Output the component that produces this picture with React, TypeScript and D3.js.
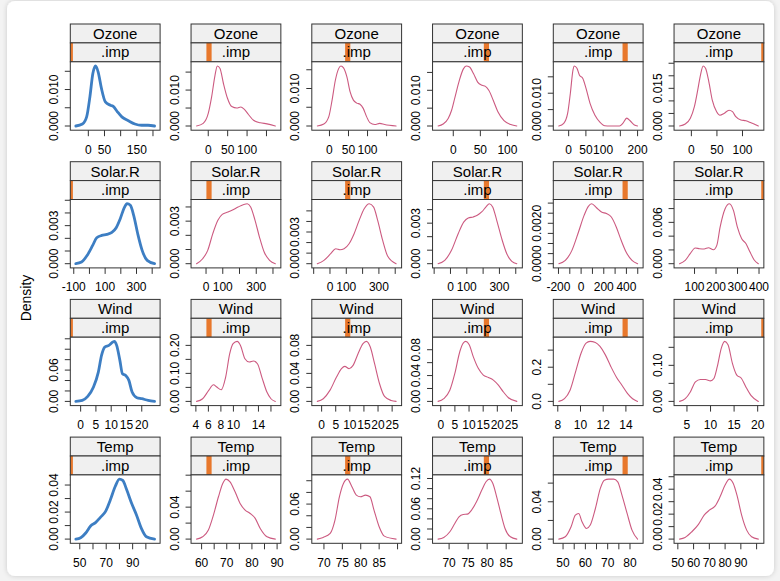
import React from "react";
import * as d3 from "d3";

// ---------- data: variables & imputation levels ----------
const variables = ["Ozone", "Solar.R", "Wind", "Temp"];
const impLevels = [0, 1, 2, 3, 4, 5];

// ---------- density curves [x, density] ----------
const ozone0 = [[-38.7,0],[-18.3,0.00055],[-5.2,0.0025],[4.9,0.008],[14,0.0144],[22.3,0.01645],[30.5,0.0148],[40.6,0.0103],[52.7,0.0066],[68,0.0057],[78,0.0053],[90,0.0039],[103.7,0.0025],[123.8,0.00145],[144,0.00055],[164.6,0.0002],[184.8,0.0002],[205,0]];
const ozone1 = [[-30.1,0],[-13,0.00074],[0,0.0035],[8.7,0.0081],[17.4,0.0141],[23.3,0.0167],[30.3,0.016],[39,0.0119],[49.3,0.0078],[60.6,0.0054],[73.6,0.005],[83.9,0.0053],[92.5,0.0047],[103.6,0.0032],[116.6,0.0016],[134,0.0009],[151.3,0.0006],[172.8,0]];
const ozone2 = [[-31.9,0],[-14.7,0.00053],[-1.7,0.0025],[6.9,0.0069],[15.5,0.0122],[24.1,0.0153],[30.2,0.016],[37,0.0155],[45.8,0.0131],[54.3,0.0091],[62.9,0.0069],[71.7,0.0061],[80.2,0.0058],[88.7,0.0047],[97.5,0.0025],[106,0.0009],[119,0.0004],[132,0.0007],[144.9,0.0004],[175,0]];
const ozone3 = [[-28.1,0],[-18.7,0.00056],[-9.4,0.0021],[-3.1,0.0044],[3.2,0.0081],[11.2,0.0128],[18.7,0.016],[23.8,0.0168],[30,0.0165],[37.5,0.0146],[45,0.0123],[53.2,0.0114],[59.4,0.0111],[65.6,0.01],[73.8,0.0072],[82.4,0.004],[93.7,0.0015],[106.2,0.0004],[117.4,0]];
const ozone4 = [[-28.6,0],[-14.3,0.0008],[-2.9,0.0039],[4.9,0.01],[12.6,0.0171],[16.3,0.0183],[24,0.0176],[31.4,0.0155],[41.1,0.0145],[50.6,0.0114],[62,0.0069],[76.3,0.0033],[90.6,0.0012],[104.9,0.0001],[119,0],[147.7,0],[157.1,0.0008],[168.6,0.0024],[178.3,0.0016],[190.6,0.0003],[200,0]];
const ozone5 = [[-23.1,0],[-11.9,0.0008],[-2,0.0031],[5.9,0.0077],[12.5,0.0144],[17.8,0.0203],[23.1,0.0239],[27.7,0.023],[34.2,0.0176],[40.9,0.0103],[49.4,0.0057],[55.9,0.0043],[63.8,0.005],[73.7,0.0063],[80.4,0.0057],[86.9,0.0037],[96.8,0.0024],[106.7,0.0021],[116.6,0.0013],[131,0]];

const solar0 = [[-86.9,0],[-50.4,0.00013],[-14.2,0.00066],[20.6,0.00144],[46.4,0.00205],[78.6,0.00223],[110.8,0.00231],[143,0.00247],[170.6,0.00284],[196.4,0.00355],[222.2,0.00442],[239.5,0.00473],[260.8,0.0046],[282,0.00381],[307.8,0.00236],[336,0.00105],[368.3,0.00026],[415.3,0]];
const solar1 = [[-56.6,0],[-20.2,0.00035],[10.1,0.00094],[40.4,0.00212],[70.7,0.00306],[97,0.00348],[131.3,0.00364],[161.6,0.00381],[191.9,0.004],[222.2,0.00416],[246.4,0.00423],[266.6,0.004],[292.9,0.00306],[319.2,0.00188],[347.4,0.00082],[379.8,0.00024],[414.1,0]];
const solar2 = [[-77.7,0],[-37,0.00032],[4.3,0.00095],[35.2,0.00142],[61.7,0.00132],[86.4,0.00142],[117.2,0.00189],[148,0.00284],[178.9,0.0041],[209.8,0.0052],[240.6,0.00568],[267.8,0.00536],[292.5,0.0041],[323.3,0.0022],[354.2,0.0007],[405.4,0]];
const solar3 = [[-76,0],[-34.9,0.00025],[6.2,0.00099],[47.2,0.00222],[82.1,0.00309],[108.8,0.00338],[139.6,0.00346],[164.3,0.00358],[191,0.00383],[217.7,0.0042],[238.2,0.00444],[258.7,0.0042],[283.4,0.00321],[314.2,0.00185],[345,0.00074],[375.8,0.00017],[406.6,0]];
const solar4 = [[-197,0],[-139,0.000165],[-81.2,0.00066],[-23.2,0.00157],[26.1,0.00239],[63.8,0.00284],[92.8,0.00297],[136.2,0.00277],[179.7,0.00256],[223.2,0.00248],[266.7,0.00231],[310.1,0.00182],[353.6,0.00116],[397.1,0.00058],[449.3,0.000165],[498.6,0]];
const solar5 = [[30.4,0],[56.7,0.00048],[79.9,0.00145],[103.1,0.00228],[123.2,0.00218],[144.8,0.00213],[164.9,0.00232],[188.1,0.00203],[203.6,0.00266],[219,0.00532],[242.2,0.00799],[262.3,0.00871],[280.9,0.00774],[299.4,0.00532],[319.5,0.00363],[339.6,0.0029],[358.1,0.00169],[376.7,0.00058],[396.8,0]];

const wind0 = [[-1.58,0],[0.53,0.0019],[2.32,0.0096],[4.21,0.0275],[5.79,0.0562],[6.84,0.0882],[7.89,0.1042],[9.26,0.1073],[10.53,0.1137],[11.05,0.115],[11.79,0.1073],[12.84,0.0786],[13.68,0.053],[14.74,0.0498],[15.79,0.0403],[16.84,0.0179],[18.42,0.007],[20,0.0051],[22.1,0.0019],[24.2,0]];
const wind1 = [[4.11,0],[5.08,0.0095],[6.05,0.0393],[6.81,0.0595],[7.35,0.0512],[8.05,0.0417],[8.76,0.0869],[9.41,0.1702],[9.95,0.2059],[10.59,0.2142],[11.13,0.1999],[11.84,0.1523],[12.54,0.1404],[13.19,0.144],[13.84,0.1345],[14.54,0.0869],[15.35,0.0333],[16,0.0095],[16.7,0]];
const wind2 = [[-1.53,0],[0.59,0.0038],[2.93,0.0157],[5.28,0.0348],[7.04,0.0467],[8.22,0.05],[9.74,0.0467],[11.15,0.0514],[12.91,0.0681],[14.67,0.0824],[15.85,0.0857],[17.26,0.0776],[18.78,0.0538],[20.54,0.0252],[22.3,0.0071],[24.65,0.0014],[26.4,0]];
const wind3 = [[-0.95,0],[1.07,0.0042],[3.2,0.0172],[4.98,0.0433],[6.75,0.0773],[7.94,0.0903],[8.89,0.0929],[10.07,0.0877],[11.49,0.0694],[13.27,0.0512],[15.05,0.0407],[16.83,0.0371],[18.6,0.0329],[20.38,0.0251],[22.16,0.0146],[23.94,0.0057],[26.9,0]];
const wind4 = [[8.09,0],[8.59,0.0158],[9.08,0.065],[9.61,0.1834],[10.05,0.282],[10.49,0.3412],[10.84,0.351],[11.31,0.3451],[11.72,0.3214],[12.19,0.2722],[12.68,0.2031],[13.18,0.14],[13.65,0.0947],[14.15,0.0454],[14.59,0.0158],[15.03,0]];
const wind5 = [[3.43,0],[4.64,0.0075],[5.71,0.0262],[6.79,0.0542],[7.86,0.0608],[8.93,0.0608],[10,0.057],[10.71,0.0636],[11.43,0.0963],[12.29,0.1477],[13,0.1664],[13.71,0.1571],[14.64,0.1057],[15.57,0.0729],[16.57,0.0636],[17.5,0.0402],[18.57,0.0168],[20.14,0]];

const temp0 = [[47,0],[50.7,0.001],[54.5,0.0045],[58.2,0.0097],[61.9,0.0122],[65.6,0.0161],[69.4,0.0203],[73.1,0.029],[76.8,0.0389],[80,0.0444],[82.5,0.0434],[85.5,0.0365],[89.2,0.0265],[92.9,0.0179],[96.6,0.0079],[100.4,0.0017],[106.6,0]];
const temp1 = [[58,0],[60.4,0.0029],[62.7,0.0113],[64.7,0.03],[66.7,0.053],[68.4,0.0696],[69.7,0.0751],[71.3,0.0717],[73.3,0.0592],[75.3,0.0446],[77.3,0.0363],[79.3,0.0321],[81.3,0.0259],[83.3,0.0133],[86,0.0029],[89.3,0]];
const temp2 = [[68.2,0],[69.8,0.0029],[71.7,0.0097],[73,0.0325],[74.2,0.0725],[75.3,0.0954],[76.4,0.1028],[77.6,0.0897],[78.8,0.0754],[79.9,0.0725],[81.3,0.0754],[82.5,0.0725],[83.6,0.0497],[85,0.0211],[86.4,0.0051],[89.6,0]];
const temp3 = [[67.1,0],[68.6,0.0033],[70.2,0.0145],[71.5,0.031],[72.6,0.0442],[73.7,0.0488],[74.8,0.0495],[75.9,0.0574],[77.2,0.0739],[78.6,0.097],[79.7,0.1135],[80.6,0.1188],[81.5,0.1102],[82.5,0.0838],[83.6,0.0508],[84.7,0.0211],[86.1,0.0046],[87.8,0]];
const temp4 = [[48.1,0],[51,0.0025],[53.6,0.0132],[55.5,0.0257],[57,0.0275],[58.5,0.0186],[60.5,0.0114],[62.2,0.015],[64.5,0.0328],[66.7,0.0543],[68.5,0.0632],[70.5,0.0643],[72.7,0.0643],[74.5,0.0614],[76.4,0.0471],[78.7,0.0275],[80.9,0.0096],[83.4,0]];
const temp5 = [[51.1,0],[54.6,0.0013],[58.9,0.0059],[63.1,0.0118],[66.7,0.0192],[70,0.0232],[73.6,0.0264],[76.8,0.0339],[80,0.0433],[82.7,0.0481],[85.2,0.0446],[87.8,0.0339],[90.5,0.0192],[93.7,0.0072],[96.8,0.0019],[101.1,0]];

// ---------- ticks and (non-overlapping) tick labels ----------
const ozoneXTicks = [[0,50,100,150,200],[0,50,100,150],[0,50,100,150],[0,50,100],[0,50,100,150,200],[0,50,100]];
const ozoneXLabels = [["0","50","150"],["0","50","100"],["0","50","100"],["0","50","100"],["0","50","100","200"],["0","50","100"]];
const ozoneYTicks = [[0,0.005,0.01,0.015],[0,0.005,0.01,0.015],[0,0.005,0.01,0.015],[0,0.005,0.01,0.015],[0,0.005,0.01,0.015],[0,0.005,0.01,0.015,0.02,0.025]];
const ozoneYLabels = [["0.000","0.010"],["0.000","0.010"],["0.000","0.010"],["0.000","0.010"],["0.000","0.010"],["0.000","0.015"]];

const solarXTicks = [[-100,0,100,200,300,400],[-100,0,100,200,300,400],[-100,0,100,200,300,400],[-100,0,100,200,300,400],[-200,-100,0,100,200,300,400,500],[100,200,300,400]];
const solarXLabels = [["-100","100","300"],["0","100","300"],["0","100","300"],["0","100","300"],["-200","0","200","400"],["100","200","300","400"]];
const solarYTicks = [[0,0.001,0.002,0.003,0.004,0.005],[0,0.001,0.002,0.003,0.004],[0,0.001,0.002,0.003,0.004,0.005],[0,0.001,0.002,0.003,0.004],[0,0.0005,0.001,0.0015,0.002,0.0025,0.003],[0,0.002,0.004,0.006,0.008]];
const solarYLabels = [["0.000","0.003"],["0.000","0.003"],["0.000","0.003"],["0.000","0.003"],["0.0000","0.0020"],["0.000","0.006"]];

const windXTicks = [[0,5,10,15,20],[4,6,8,10,12,14,16],[0,5,10,15,20,25],[0,5,10,15,20,25],[8,10,12,14],[5,10,15,20]];
const windXLabels = [["0","5","10","15","20"],["4","6","8","10","14"],["0","5","10","15","20","25"],["0","5","10","15","20","25"],["8","10","12","14"],["5","10","15","20"]];
const windYTicks = [[0,0.02,0.04,0.06,0.08,0.1,0.12],[0,0.05,0.1,0.15,0.2],[0,0.02,0.04,0.06,0.08],[0,0.02,0.04,0.06,0.08],[0,0.1,0.2,0.3],[0,0.05,0.1,0.15]];
const windYLabels = [["0.00","0.06"],["0.00","0.10","0.20"],["0.00","0.04","0.08"],["0.00","0.04","0.08"],["0.0","0.2"],["0.00","0.10"]];

const tempXTicks = [[50,60,70,80,90,100],[60,65,70,75,80,85,90],[70,75,80,85,90],[70,75,80,85],[50,55,60,65,70,75,80],[50,60,70,80,90,100]];
const tempXLabels = [["50","70","90"],["60","70","80","90"],["70","75","80","85"],["70","75","80","85"],["50","60","70","80"],["50","60","70","80","90"]];
const tempYTicks = [[0,0.01,0.02,0.03,0.04],[0,0.02,0.04,0.06,0.08],[0,0.02,0.04,0.06,0.08,0.1],[0,0.02,0.04,0.06,0.08,0.1,0.12],[0,0.02,0.04,0.06],[0,0.01,0.02,0.03,0.04,0.05]];
const tempYLabels = [["0.00","0.02","0.04"],["0.00","0.04"],["0.00","0.06"],["0.00","0.06","0.12"],["0.00","0.04"],["0.00","0.02","0.04"]];

const curves = [
  [ozone0, ozone1, ozone2, ozone3, ozone4, ozone5],
  [solar0, solar1, solar2, solar3, solar4, solar5],
  [wind0, wind1, wind2, wind3, wind4, wind5],
  [temp0, temp1, temp2, temp3, temp4, temp5],
];
const xTicksAll = [ozoneXTicks, solarXTicks, windXTicks, tempXTicks];
const xLabelsAll = [ozoneXLabels, solarXLabels, windXLabels, tempXLabels];
const yTicksAll = [ozoneYTicks, solarYTicks, windYTicks, tempYTicks];
const yLabelsAll = [ozoneYLabels, solarYLabels, windYLabels, tempYLabels];

// ---------- layout / style ----------
const W = 780, H = 581;
const COL_X0 = 70.3, COL_STEP = 120.75, PW = 89.8;
const ROW_Y0 = 24, ROW_STEP = 137.7, STRIP_H = 18.9, PLOT_H = 68.4;
const FONT = "'Liberation Sans', Arial, Helvetica, sans-serif";
const AXIS_COL = "#333333";
const STRIP_BG = "#F0F0F0";
const MARK_COL = "#E8782C";
const OBS_COL = "#3D7EC3";
const IMP_COL = "#CC5A80";
const PAD = 0.07;
const TICK = 5.5;

function extendRange(ext: number[]) {
  const span = ext[1] - ext[0];
  return [ext[0] - PAD * span, ext[1] + PAD * span];
}

function Panel({ r, c }: { r: number; c: number }) {
  const left = COL_X0 + c * COL_STEP;
  const top = ROW_Y0 + r * ROW_STEP;
  const plotTop = top + 2 * STRIP_H;
  const plotBottom = plotTop + PLOT_H;
  const data = curves[r][c] as number[][];
  const xd = extendRange(d3.extent(data, (d) => d[0]) as number[]);
  const yd = extendRange(d3.extent(data, (d) => d[1]) as number[]);
  const sx = d3.scaleLinear().domain(xd).range([left, left + PW]);
  const sy = d3.scaleLinear().domain(yd).range([plotBottom, plotTop]);
  const line = d3
    .line<number[]>()
    .x((d) => sx(d[0]))
    .y((d) => sy(d[1]))
    .curve(d3.curveMonotoneX);
  const xt = xTicksAll[r][c].filter((v) => v >= xd[0] && v <= xd[1]);
  const yt = yTicksAll[r][c].filter((v) => v >= yd[0] && v <= yd[1]);
  const xl = xLabelsAll[r][c];
  const yl = yLabelsAll[r][c];
  const level = impLevels[c];
  const markPos = d3.scaleLinear().domain([0, impLevels.length - 1]).range([left, left + PW]);
  const mc = markPos(level);
  const mx1 = Math.max(left, mc - 2.6);
  const mx2 = Math.min(left + PW, mc + 2.6);
  const isObs = c === 0;
  return (
    <g>
      {/* strips */}
      <rect x={left} y={top} width={PW} height={STRIP_H} fill={STRIP_BG} stroke={AXIS_COL} strokeWidth={1} />
      <text x={left + PW / 2} y={top + 15} fontSize={15} textAnchor="middle" fill="#000" fontFamily={FONT}>
        {variables[r]}
      </text>
      <rect x={left} y={top + STRIP_H} width={PW} height={STRIP_H} fill={STRIP_BG} stroke="none" />
      <rect x={mx1} y={top + STRIP_H} width={mx2 - mx1} height={STRIP_H} fill={MARK_COL} />
      <rect x={left} y={top + STRIP_H} width={PW} height={STRIP_H} fill="none" stroke={AXIS_COL} strokeWidth={1} />
      <text x={left + PW / 2} y={top + STRIP_H + 14.5} fontSize={15} textAnchor="middle" fill="#000" fontFamily={FONT}>
        .imp
      </text>
      {/* panel */}
      <rect x={left} y={plotTop} width={PW} height={PLOT_H} fill="white" stroke={AXIS_COL} strokeWidth={1} />
      <path
        d={line(data) || ""}
        fill="none"
        stroke={isObs ? OBS_COL : IMP_COL}
        strokeWidth={isObs ? 2.8 : 1.1}
        strokeLinejoin="round"
        strokeLinecap="round"
      />
      {/* x axis */}
      {xt.map((v) => (
        <line key={"xt" + v} x1={sx(v)} x2={sx(v)} y1={plotBottom} y2={plotBottom + TICK + 0.5} stroke={AXIS_COL} strokeWidth={1} />
      ))}
      {xl.map((s) => (
        <text key={"xl" + s} x={sx(+s)} y={plotBottom + 23.5} fontSize={12} textAnchor="middle" fill="#000" fontFamily={FONT}>
          {s}
        </text>
      ))}
      {/* y axis */}
      {yt.map((v) => (
        <line key={"yt" + v} x1={left - TICK} x2={left} y1={sy(v)} y2={sy(v)} stroke={AXIS_COL} strokeWidth={1} />
      ))}
      {yl.map((s) => (
        <text
          key={"yl" + s}
          transform={`translate(${left - 12.5},${sy(+s)}) rotate(-90)`}
          fontSize={12}
          textAnchor="middle"
          fill="#000"
          fontFamily={FONT}
        >
          {s}
        </text>
      ))}
    </g>
  );
}

export default function App() {
  return (
    <svg
      width={W}
      height={H}
      viewBox={`0 0 ${W} ${H}`}
      style={{ position: "fixed", left: 0, top: 0 }}
      xmlns="http://www.w3.org/2000/svg"
    >
      <defs>
        <filter id="cardShadow" x="-5%" y="-5%" width="110%" height="110%">
          <feDropShadow dx="0" dy="0" stdDeviation="2.5" floodColor="#000" floodOpacity="0.18" />
        </filter>
      </defs>
      <rect x={0} y={0} width={W} height={H} fill="#f3f3f3" />
      <rect x={7} y={1} width={767} height={575} rx={8} ry={8} fill="#ffffff" filter="url(#cardShadow)" />
      <text
        transform="translate(31,298) rotate(-90)"
        fontSize={14}
        textAnchor="middle"
        fill="#000"
        fontFamily={FONT}
      >
        Density
      </text>
      {variables.map((_, r) =>
        impLevels.map((_, c) => <Panel key={r + "-" + c} r={r} c={c} />)
      )}
    </svg>
  );
}
